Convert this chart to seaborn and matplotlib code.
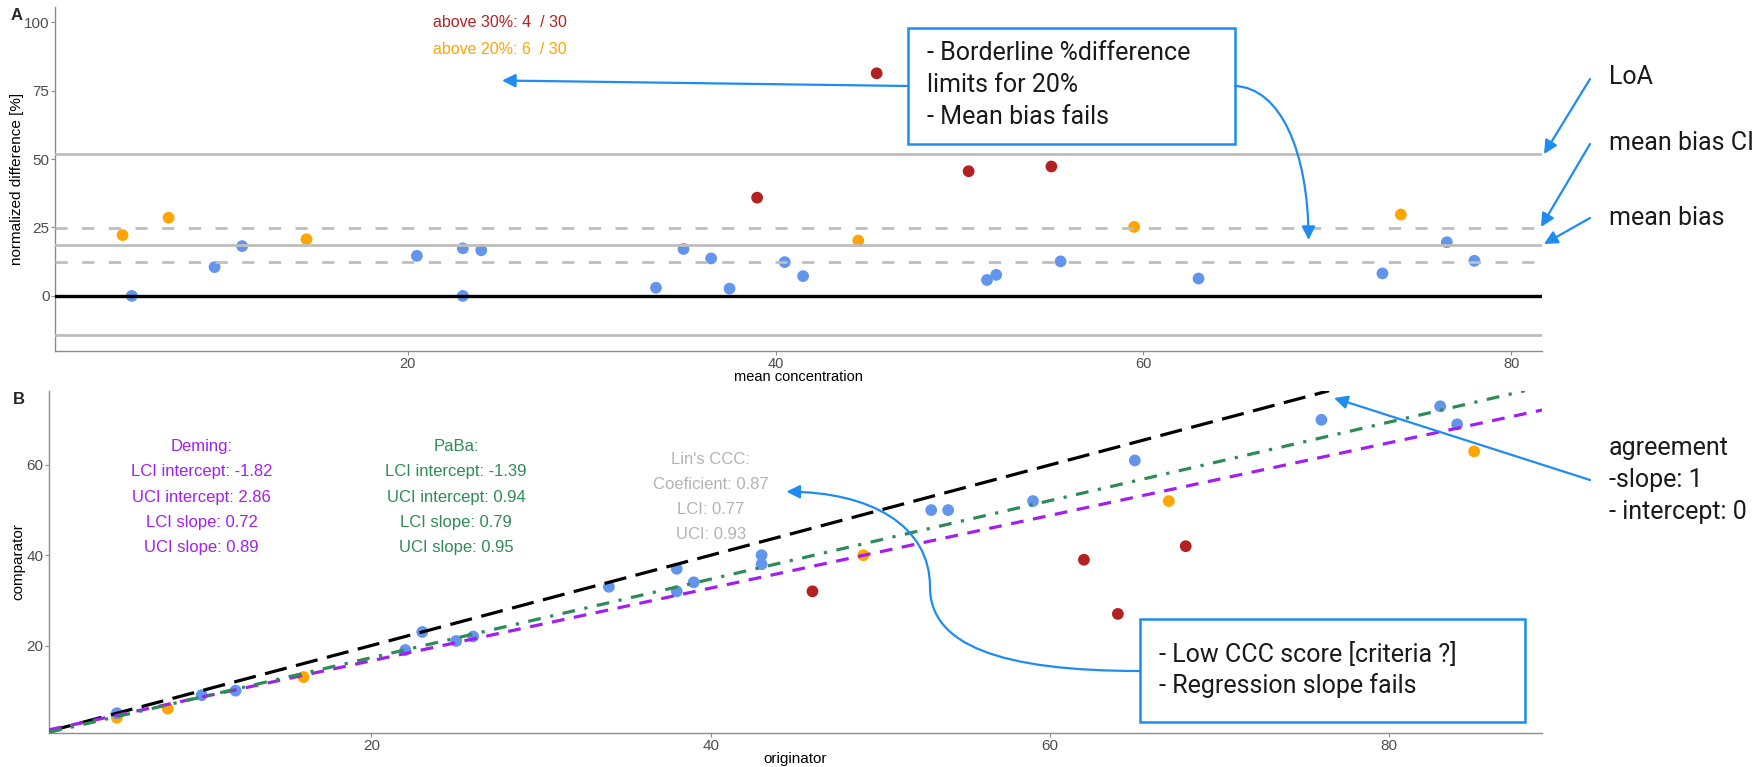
import numpy as np
import pandas as pd
import matplotlib
matplotlib.use("Agg")
import matplotlib.pyplot as plt
import seaborn as sns
from matplotlib.path import Path
from matplotlib.patches import FancyArrowPatch, Rectangle

# ---------------- data ----------------
originator = [5, 5, 8, 10, 12, 16, 22, 25, 23, 26, 34, 38, 39, 38, 46,
              43, 43, 49, 64, 62, 53, 54, 68, 59, 67, 65, 76, 85, 84, 83]
comparator = [4, 5, 6, 9, 10, 13, 19, 21, 23, 22, 33, 32, 34, 37, 32,
              38, 40, 40, 27, 39, 50, 50, 42, 52, 52, 61, 70, 63, 69, 73]

mean_bias = 18.7
bias_ci = [12.4, 24.9]
loa = [-14.4, 51.8]

deming_intercept, deming_slope = 0.52, 0.805
paba_intercept, paba_slope = -0.10, 0.87

deming_lines = ["Deming:", "LCI intercept: -1.82", "UCI intercept: 2.86",
                "LCI slope: 0.72", "UCI slope: 0.89"]
paba_lines = ["PaBa:", "LCI intercept: -1.39", "UCI intercept: 0.94",
              "LCI slope: 0.79", "UCI slope: 0.95"]
ccc_lines = ["Lin's CCC:", "Coeficient: 0.87", "LCI: 0.77", "UCI: 0.93"]

a_xticks = [20, 40, 60, 80]
a_yticks = [0, 25, 50, 75, 100]
b_xticks = [20, 40, 60, 80]
b_yticks = [20, 40, 60]

# ---------------- derived table ----------------
df = pd.DataFrame({"originator": originator, "comparator": comparator})
df["mean"] = (df["originator"] + df["comparator"]) / 2
df["diff"] = (df["originator"] - df["comparator"]) / df["mean"] * 100
df["cat"] = np.where(df["diff"] > 30, "above30",
                     np.where(df["diff"] > 20, "above20", "within"))
n = len(df)
n30 = int((df["diff"] > 30).sum())
n20 = int(((df["diff"] > 20) & (df["diff"] <= 30)).sum())

RED, ORANGE, BLUE = "#B22222", "#FFA500", "#6495ED"
PURPLE, GREEN, GREY = "#A020F0", "#2E8B57", "#BEBEBE"
ABLUE = "#1E8CF0"
palette = {"within": BLUE, "above20": ORANGE, "above30": RED}

def expand(lo, hi, m=0.05):
    s = hi - lo
    return lo - m * s, hi + m * s

# ---------------- figure ----------------
W, H, DPI = 1753, 767, 100
sns.set_theme(style="white")
plt.rcParams["font.family"] = ["Liberation Sans", "DejaVu Sans"]

fig = plt.figure(figsize=(W / DPI, H / DPI), dpi=DPI)

def rect(l, t, r, b):
    return [l / W, 1 - b / H, (r - l) / W, (b - t) / H]

axA = fig.add_axes(rect(55, 6.5, 1542, 351))
axB = fig.add_axes(rect(49, 390.7, 1542, 733.3))

SPINE = "#8C8C8C"
for ax in (axA, axB):
    for s in ("top", "right"):
        ax.spines[s].set_visible(False)
    for s in ("left", "bottom"):
        ax.spines[s].set_color(SPINE)
        ax.spines[s].set_linewidth(1.0)
    ax.tick_params(axis="both", length=3, width=0.8, color=SPINE, pad=1,
                   labelsize=11, labelcolor="#4D4D4D",
                   left=True, bottom=True)
    ax.grid(False)
axA.tick_params(axis="x", labelsize=10.5)

# ---- Panel A ----
sns.scatterplot(data=df, x="mean", y="diff", hue="cat", palette=palette,
                s=72, linewidth=0, legend=False, ax=axA, zorder=2)
for v in [loa[0], loa[1], mean_bias]:
    axA.axhline(v, color=GREY, lw=2.0, zorder=3)
for v in bias_ci:
    axA.axhline(v, color=GREY, lw=2.0, dashes=(4.4, 5.2), zorder=3)
axA.axhline(0, color="black", lw=2.4, zorder=3)

axA.set_xlim(*expand(df["mean"].min(), df["mean"].max()))
axA.set_ylim(*expand(loa[0], 100))
axA.set_xticks(a_xticks)
axA.set_yticks(a_yticks)
axA.text(25, 100, f"above 30%: {n30}  / {n}", color=RED, ha="center",
         va="center", fontsize=11.5)
axA.text(25, 90, f"above 20%: {n20}  / {n}", color=ORANGE, ha="center",
         va="center", fontsize=11.5)
axA.set_xlabel("mean concentration", fontsize=10.5, color="black", va="center")
axA.set_ylabel("normalized difference [%]", fontsize=11, color="black",
               va="center")
axA.xaxis.set_label_coords(0.5, (351 - 377) / (351 - 6.5))
axA.yaxis.set_label_coords((17 - 55) / (1542 - 55), 0.5)

# ---- Panel B ----
sns.scatterplot(data=df, x="originator", y="comparator", hue="cat",
                palette=palette, s=72, linewidth=0, legend=False, ax=axB,
                zorder=2)
axB.axline((0, 0), slope=1, color="black", lw=2.3, dashes=(7, 3), zorder=3)
axB.axline((0, deming_intercept), slope=deming_slope, color=PURPLE, lw=2.3,
           dashes=(4, 3), zorder=3)
axB.axline((0, paba_intercept), slope=paba_slope, color=GREEN, lw=2.3,
           dashes=(4, 3, 1, 3), zorder=3)
axB.set_xlim(*expand(df["originator"].min(), df["originator"].max()))
axB.set_ylim(*expand(df["comparator"].min(), df["comparator"].max()))
axB.set_xticks(b_xticks)
axB.set_yticks(b_yticks)
axB.set_xlabel("originator", fontsize=11, color="black", va="center")
axB.set_ylabel("comparator", fontsize=11, color="black", va="center")
axB.xaxis.set_label_coords(0.5, (733.3 - 759) / (733.3 - 390.7))
axB.yaxis.set_label_coords((18 - 49) / (1542 - 49), 0.5)

STEP = 25.25 * 72 / DPI  # line step in points

def block(ax, x, y, lines, color):
    c = (len(lines) - 1) / 2
    for i, s in enumerate(lines):
        ax.annotate(s, xy=(x, y), xytext=(0, (c - i) * STEP),
                    textcoords="offset points", ha="center", va="center",
                    color=color, fontsize=12)

block(axB, 10, 52.9, deming_lines, PURPLE)
block(axB, 25, 52.9, paba_lines, GREEN)
block(axB, 40, 52.9, ccc_lines, "#B3B3B3")

# ---------------- panel letters ----------------
fig.text(17 / W, 1 - 15 / H, "A", weight="bold", fontsize=12, ha="center",
         va="center")
fig.text(19 / W, 1 - 399 / H, "B", weight="bold", fontsize=12, ha="center",
         va="center")

# ---------------- annotations (pixel positions) ----------------
def F(x, y):
    return (x / W, 1 - y / H)

AFONT = dict(family=["Roboto", "DejaVu Sans"], fontsize=18, color="#1A1A1A")

def label(x, y, s):
    fig.text(x / W, 1 - y / H, s, ha="left", va="center", zorder=12, **AFONT)

def box(l, t, r, b):
    fig.add_artist(Rectangle((l / W, 1 - b / H), (r - l) / W, (b - t) / H,
                             transform=fig.transFigure, fc="white", ec=ABLUE,
                             lw=1.8, zorder=10))

def arrow(p0, p1):
    fig.add_artist(FancyArrowPatch(F(*p0), F(*p1), transform=fig.transFigure,
                                   arrowstyle="-|>", mutation_scale=20,
                                   color=ABLUE, lw=1.6, shrinkA=0, shrinkB=0,
                                   zorder=11))

def curve(pts):
    verts = [F(*p) for p in pts]
    codes = [Path.MOVETO] + [Path.CURVE4] * (len(pts) - 1)
    fig.add_artist(FancyArrowPatch(path=Path(verts, codes),
                                   transform=fig.transFigure,
                                   arrowstyle="-|>", mutation_scale=20,
                                   color=ABLUE, lw=1.6, zorder=11))

# box 1
box(908, 28, 1235, 144)
label(927, 53, "- Borderline %difference")
label(927, 85, "limits for 20%")
label(927, 117, "- Mean bias fails")
arrow((908, 86), (502, 80.5))
curve([(1235, 86), (1280, 88), (1308, 150), (1308.6, 240)])

# right labels panel A
label(1609, 77, "LoA")
label(1609, 143, "mean bias CI")
label(1609, 218, "mean bias")
arrow((1590, 79), (1544, 154))
arrow((1590, 144), (1541, 227))
arrow((1590, 218), (1544, 244))

# panel B annotations
label(1609, 448, "agreement")
label(1609, 480, "-slope: 1")
label(1609, 512, "- intercept: 0")
arrow((1590, 480), (1334, 398))

box(1139.6, 619.3, 1525, 722.3)
label(1158.7, 655, "- Low CCC score [criteria ?]")
label(1158.7, 686, "- Regression slope fails")
curve([(1139.6, 671), (1000, 671), (930, 645), (930, 587),
       (930, 525), (870, 492), (786.4, 491.7)])

fig.savefig("out.png", dpi=DPI)
